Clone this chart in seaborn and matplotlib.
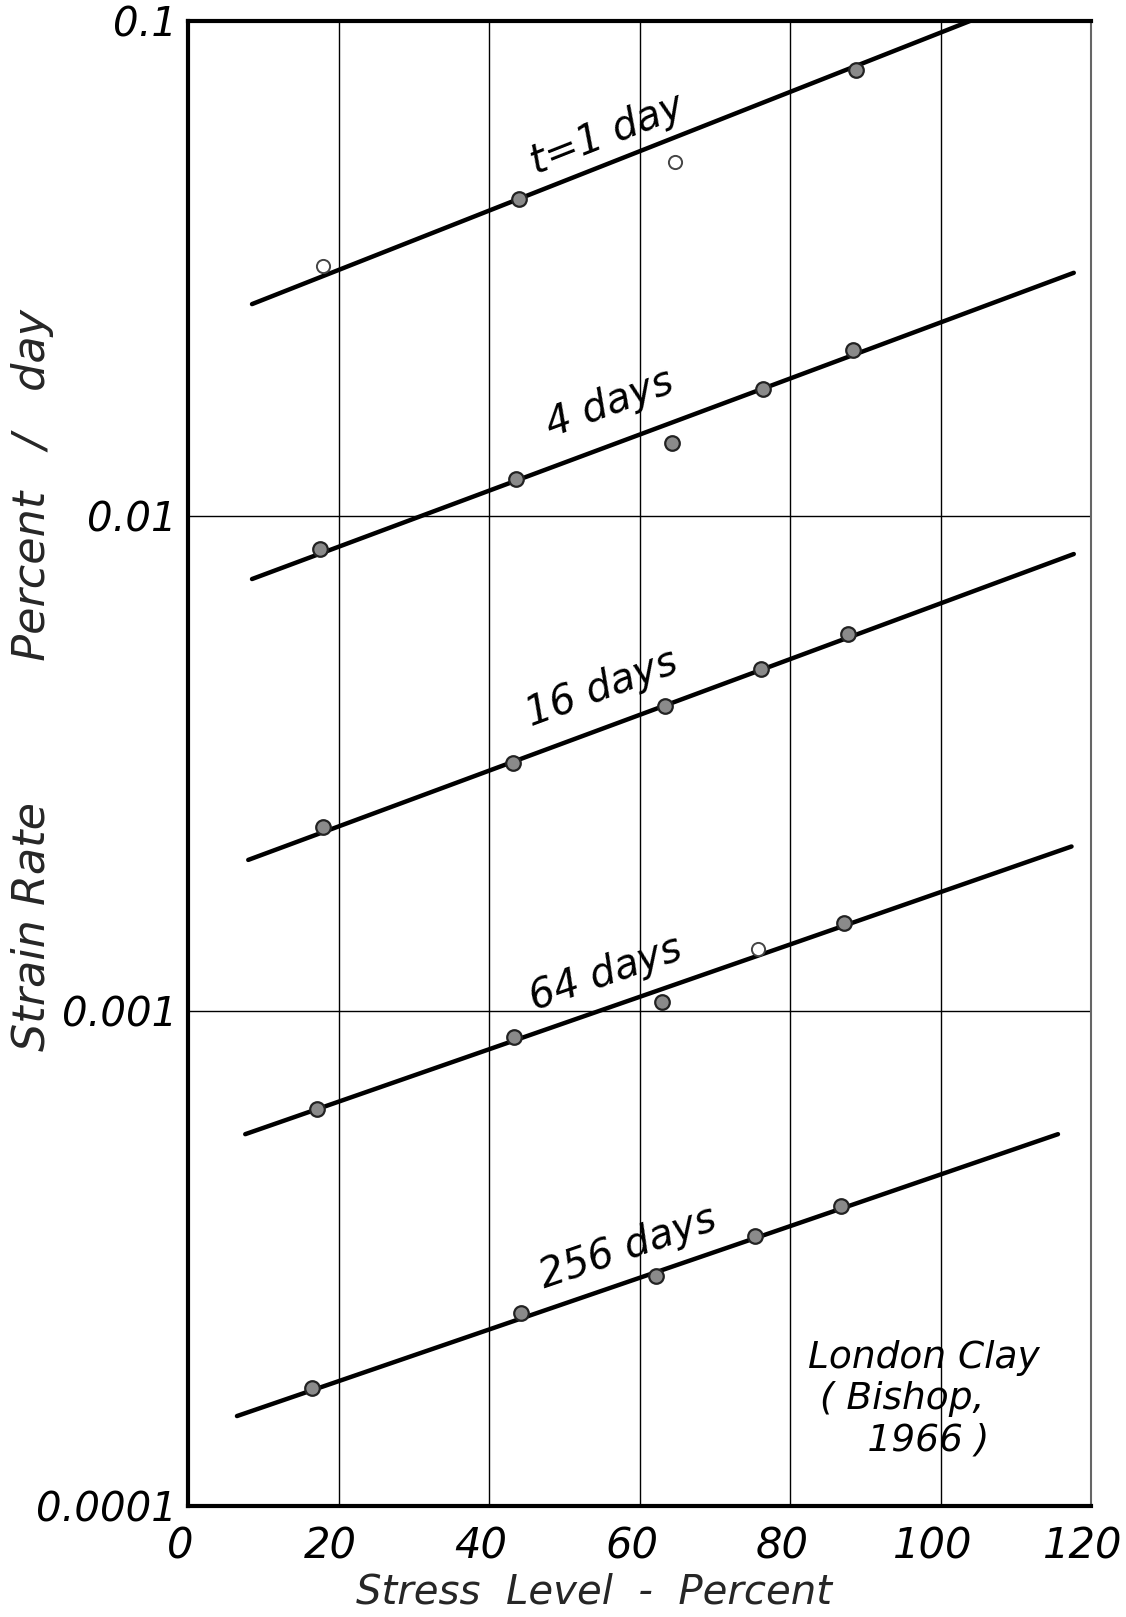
import numpy as np
import pandas as pd
import matplotlib
matplotlib.use("Agg")
import matplotlib.pyplot as plt
import matplotlib.transforms as mtransforms
import seaborn as sns

# ---------------- data ----------------
series_names = ["t=1 day", "4 days", "16 days", "64 days", "256 days"]

stress_1 = [17.9, 44.0, 64.7, 88.8]
rate_1 = [0.0320, 0.0437, 0.0519, 0.0798]
open_1 = [True, False, True, False]

stress_4 = [17.5, 43.6, 64.3, 76.4, 88.3]
rate_4 = [0.00857, 0.01189, 0.01406, 0.01803, 0.02163]
open_4 = [False, False, False, False, False]

stress_16 = [18.0, 43.2, 63.4, 76.1, 87.7]
rate_16 = [0.002355, 0.00317, 0.00414, 0.00492, 0.00577]
open_16 = [False, False, False, False, False]

stress_64 = [17.1, 43.3, 63.0, 75.7, 87.1]
rate_64 = [0.000634, 0.000887, 0.001045, 0.001334, 0.001503]
open_64 = [False, False, False, True, False]

stress_256 = [16.5, 44.3, 62.2, 75.4, 86.8]
rate_256 = [0.000173, 0.000246, 0.000291, 0.000352, 0.000403]
open_256 = [False, False, False, False, False]

# fitted (hand-drawn) lines: start / end stress and rate
fit_x0 = [8.5, 8.5, 8.0, 7.6, 6.5]
fit_y0 = [0.0268, 0.00746, 0.00202, 0.000564, 0.000152]
fit_x1 = [103.9, 117.7, 117.7, 117.4, 115.6]
fit_y1 = [0.1000, 0.0310, 0.00838, 0.00215, 0.000564]

# label positions
label_x = [55.7, 56.0, 55.0, 55.5, 58.5]
label_y = [0.0590, 0.01687, 0.00450, 0.00119, 0.000333]

x_ticks = [0, 20, 40, 60, 80, 100, 120]
x_ticklabels = ["0", "20", "40", "60", "80", "100", "120"]
y_ticks = [0.0001, 0.001, 0.01, 0.1]
y_ticklabels = ["0.0001", "0.001", "0.01", "0.1"]

note_text = "London Clay\n ( Bishop,\n     1966 )"

# ---------------- build frames ----------------
pts = pd.concat([
    pd.DataFrame({"stress": s, "rate": r, "open": o, "series": n})
    for s, r, o, n in zip(
        [stress_1, stress_4, stress_16, stress_64, stress_256],
        [rate_1, rate_4, rate_16, rate_64, rate_256],
        [open_1, open_4, open_16, open_64, open_256],
        series_names)
], ignore_index=True)

fits = pd.concat([
    pd.DataFrame({"stress": [a, b], "rate": [c, d], "series": n})
    for a, b, c, d, n in zip(fit_x0, fit_x1, fit_y0, fit_y1, series_names)
], ignore_index=True)

# ---------------- plot ----------------
sns.set_theme(style="white")
plt.rcParams["font.family"] = ["DejaVu Sans"]
plt.rcParams["font.style"] = "italic"

fig = plt.figure(figsize=(11.26, 16.17), dpi=100)
ax = fig.add_axes([0.167, 0.0686, 0.802, 0.9184])
ax.set_yscale("log")
ax.set_xlim(0, 120)
ax.set_ylim(0.0001, 0.1)

# grid
for xv in x_ticks[1:-1]:
    ax.axvline(xv, color="black", lw=1.0, zorder=1)
for yv in y_ticks[1:-1]:
    ax.axhline(yv, color="black", lw=1.0, zorder=1)

sns.lineplot(data=fits, x="stress", y="rate", units="series", estimator=None,
             color="black", lw=3.2, ax=ax, zorder=3, legend=False)

filled = pts[~pts["open"]]
hollow = pts[pts["open"]]
sns.scatterplot(data=filled, x="stress", y="rate", s=110, color="#8a8a8a",
                edgecolor="#222222", linewidth=1.6, ax=ax, zorder=4, legend=False)
sns.scatterplot(data=hollow, x="stress", y="rate", s=90, color="white",
                edgecolor="#444444", linewidth=1.4, ax=ax, zorder=4, legend=False)

# rotated labels along lines
fig.canvas.draw()
for name, lx, ly, a, b, c, d in zip(series_names, label_x, label_y,
                                    fit_x0, fit_x1, fit_y0, fit_y1):
    p0 = ax.transData.transform((a, c))
    p1 = ax.transData.transform((b, d))
    ang = np.degrees(np.arctan2(p1[1] - p0[1], p1[0] - p0[0]))
    ax.text(lx, ly, name, rotation=ang, rotation_mode="anchor",
            ha="center", va="center", fontsize=29, style="italic",
            color="black", zorder=5)

ax.text(0.686, 0.072, note_text, transform=ax.transAxes, ha="left", va="center",
        multialignment="left", fontsize=27, style="italic", linespacing=1.2,
        color="black")

# axes styling
ax.set_xticks(x_ticks)
ax.set_xticklabels(x_ticklabels)
ax.set_yticks(y_ticks)
ax.set_yticklabels(y_ticklabels)
ax.minorticks_off()
ax.yaxis.set_minor_locator(matplotlib.ticker.NullLocator())
ax.tick_params(axis="x", length=0, labelsize=30, colors="black", pad=14)
ax.tick_params(axis="y", length=0, labelsize=29, colors="black", pad=8)
shift = mtransforms.ScaledTranslation(-0.08, 0, fig.dpi_scale_trans)
for lbl in ax.get_xticklabels():
    lbl.set_style("italic")
    lbl.set_transform(lbl.get_transform() + shift)
for lbl in ax.get_yticklabels():
    lbl.set_style("italic")

ax.set_xlabel("Stress  Level  -  Percent", fontsize=29, style="italic")
ax.xaxis.set_label_coords(0.45, -0.045)
ax.set_ylabel("Strain Rate          Percent   /   day", fontsize=32, style="italic")
ax.yaxis.set_label_coords(-0.148, 0.556)

for side in ["left", "top", "bottom"]:
    ax.spines[side].set_visible(True)
    ax.spines[side].set_color("black")
    ax.spines[side].set_linewidth(3.0)
ax.spines["right"].set_visible(True)
ax.spines["right"].set_color("#666666")
ax.spines["right"].set_linewidth(1.5)
ax.spines["right"].set_linestyle((0, (2, 1)))
ax.grid(False)

fig.savefig("out.png", dpi=100, facecolor="white")
